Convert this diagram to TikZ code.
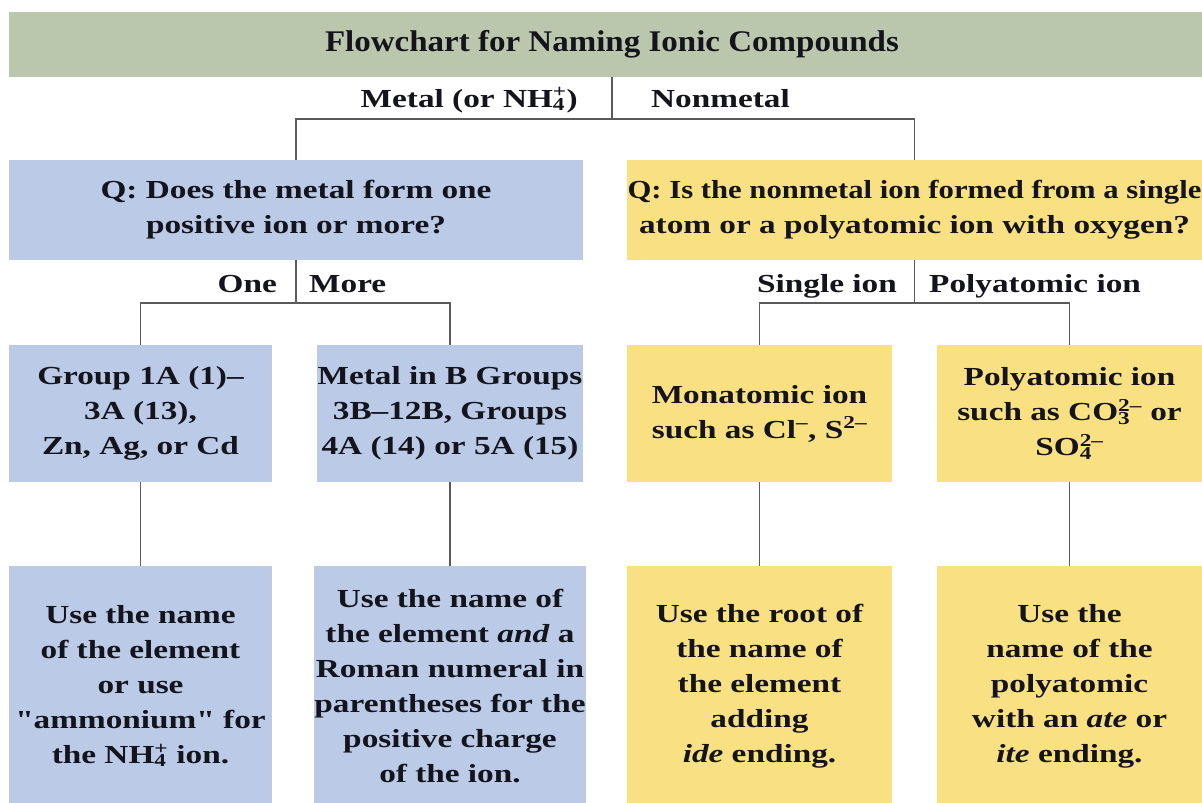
\documentclass[tikz,border=0pt]{standalone}
\usepackage{fontspec}
\newfontfamily\titlefam{Liberation Serif}[FakeStretch=1.10]
\newfontfamily\bodyfam{Liberation Serif}[FakeStretch=1.28]
\newfontfamily\tightfam{Liberation Serif}[FakeStretch=1.18]
\definecolor{qblue}{RGB}{187,202,230}
\definecolor{qyellow}{RGB}{249,224,130}
\definecolor{qgreen}{RGB}{187,199,173}
\definecolor{linegray}{RGB}{90,90,90}
\definecolor{ink}{RGB}{20,20,28}
\newcommand\subsup[2]{\rlap{\textsubscript{#1}}\textsuperscript{#2}}
\tikzset{
  box/.style={inner sep=0pt, align=center, text=ink,
    font=\bodyfam\bfseries\fontsize{26}{35}\selectfont},
  bluebox/.style={box, fill=qblue},
  yelbox/.style={box, fill=qyellow},
  titlebox/.style={inner sep=0pt, fill=qgreen, text=ink,
    font=\titlefam\bfseries\fontsize{30}{36}\selectfont},
  lbl/.style={inner sep=0pt, text=ink,
    font=\bodyfam\bfseries\fontsize{26}{35}\selectfont},
  con/.style={draw=linegray, line width=1.5pt},
}
\begin{document}
\begin{tikzpicture}[x=1pt,y=-1pt]
\useasboundingbox[fill=white] (0,0) rectangle (1202,803);

% title band
\node[titlebox, minimum width=1206pt, minimum height=65pt] (title) at (612,44.5) {Flowchart for Naming Ionic Compounds};

% question boxes
\node[bluebox, minimum width=574pt, minimum height=100pt] (q1) at (296,210)
  {Q: Does the metal form one\\positive ion or more?};
\node[yelbox, minimum width=575pt, minimum height=100pt] (q2) at (914.5,210)
  {{\tightfam Q: Is the nonmetal ion formed from a single}\\atom or a polyatomic ion with oxygen?};

% second row
\node[bluebox, minimum width=263pt, minimum height=137pt] (a) at (140.5,413.5)
  {Group 1A (1)–\\3A (13),\\Zn, Ag, or Cd};
\node[bluebox, minimum width=266pt, minimum height=137pt] (b) at (450,413.5)
  {Metal in B Groups\\3B–12B, Groups\\4A (14) or 5A (15)};
\node[yelbox, minimum width=265pt, minimum height=137pt] (c) at (759.5,413.5)
  {Monatomic ion\\such as Cl\textsuperscript{–}, S\textsuperscript{2–}};
\node[yelbox, minimum width=265pt, minimum height=137pt] (d) at (1069.5,413.5)
  {Polyatomic ion\\such as CO\subsup{3}{2–} or\\SO\subsup{4}{2–}};

% third row
\node[bluebox, minimum width=263pt, minimum height=240pt] (e) at (140.5,686)
  {Use the name\\of the element\\or use\\"ammonium" for\\the NH\subsup{4}{+} ion.};
\node[bluebox, minimum width=266pt, minimum height=240pt] (f) at (450,686)
  {Use the name of\\the element \textit{and} a\\Roman numeral in\\parentheses for the\\positive charge\\of the ion.};
\node[yelbox, minimum width=265pt, minimum height=240pt] (g) at (759.5,686)
  {Use the root of\\the name of\\the element\\adding\\\textit{ide} ending.};
\node[yelbox, minimum width=265pt, minimum height=240pt] (h) at (1069.5,686)
  {Use the\\name of the\\polyatomic\\with an \textit{ate} or\\\textit{ite} ending.};

% branch labels
\node[lbl, anchor=base east] (lmetal) at (578,107) {Metal (or NH\subsup{4}{+})};
\node[lbl, anchor=base west] (lnon) at (651,107) {Nonmetal};
\node[lbl, anchor=base east] (lone) at (277,292) {One};
\node[lbl, anchor=base west] (lmore) at (309,292) {More};
\node[lbl, anchor=base east] (lsingle) at (897,292) {Single ion};
\node[lbl, anchor=base west] (lpoly) at (929,292) {Polyatomic ion};

% connectors
\coordinate (j1) at (612,119);
\coordinate (j2) at (296,303);
\coordinate (j3) at (914.5,303);
\draw[con] (title.south -| j1) -- (j1);
\draw[con] (q1.north) |- (j1) -| (q2.north);
\draw[con] (q1.south) -- (j2);
\draw[con] (a.north) |- (j2) -| (b.north);
\draw[con] (q2.south) -- (j3);
\draw[con] (c.north) |- (j3) -| (d.north);
\draw[con] (a.south) -- (e.north);
\draw[con] (b.south) -- (f.north);
\draw[con] (c.south) -- (g.north);
\draw[con] (d.south) -- (h.north);
\end{tikzpicture}
\end{document}
